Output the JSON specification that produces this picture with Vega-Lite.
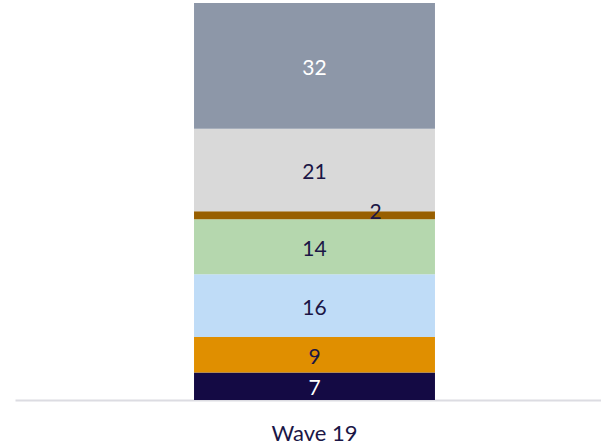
{
  "$schema": "https://vega.github.io/schema/vega-lite/v6.json",
  "width": 599,
  "height": 397,
  "autosize": {"type": "none"},
  "padding": {"left": 15, "top": 3, "right": 0, "bottom": 46},
  "background": "white",
  "config": {
    "view": {"stroke": null},
    "font": "Lato"
  },
  "data": {
    "values": [
      {"wave": "Wave 19", "segment": "A", "rank": 1, "value": 7},
      {"wave": "Wave 19", "segment": "B", "rank": 2, "value": 9},
      {"wave": "Wave 19", "segment": "C", "rank": 3, "value": 16},
      {"wave": "Wave 19", "segment": "D", "rank": 4, "value": 14},
      {"wave": "Wave 19", "segment": "E", "rank": 5, "value": 2},
      {"wave": "Wave 19", "segment": "F", "rank": 6, "value": 21},
      {"wave": "Wave 19", "segment": "G", "rank": 7, "value": 32}
    ]
  },
  "transform": [
    {"stack": "value", "groupby": ["wave"], "sort": [{"field": "rank", "order": "ascending"}], "as": ["v0", "v1"]},
    {"calculate": "(datum.v0 + datum.v1) / 2", "as": "vmid"}
  ],
  "encoding": {
    "x": {
      "field": "wave",
      "type": "nominal",
      "title": null,
      "scale": {"paddingInner": 0, "paddingOuter": 0.743},
      "axis": {
        "domainColor": "#dcdce2",
        "domainWidth": 2,
        "ticks": false,
        "labelAngle": 0,
        "labelFontSize": 22,
        "labelColor": "#1b1646",
        "labelPadding": 23
      }
    }
  },
  "layer": [
    {
      "mark": {"type": "bar"},
      "encoding": {
        "y": {
          "field": "v0",
          "type": "quantitative",
          "scale": {"domain": [0, 101], "nice": false, "zero": true},
          "axis": null
        },
        "y2": {"field": "v1"},
        "color": {
          "field": "segment",
          "type": "nominal",
          "legend": null,
          "scale": {
            "domain": ["A", "B", "C", "D", "E", "F", "G"],
            "range": ["#140a44", "#e08f00", "#bfdcf7", "#b5d7ae", "#985f00", "#d9d9d9", "#8d97a8"]
          }
        }
      }
    },
    {
      "transform": [{"filter": "datum.segment != 'E'"}],
      "mark": {"type": "text", "fontSize": 21, "baseline": "middle", "align": "center", "dy": 3},
      "encoding": {
        "y": {"field": "vmid", "type": "quantitative", "axis": null},
        "text": {"field": "value", "type": "quantitative"},
        "color": {
          "condition": {"test": "datum.segment == 'A' || datum.segment == 'G'", "value": "#ffffff"},
          "value": "#1b1646"
        }
      }
    },
    {
      "transform": [{"filter": "datum.segment == 'E'"}],
      "mark": {"type": "text", "fontSize": 21, "baseline": "middle", "align": "center", "dx": 61, "dy": -2, "color": "#1b1646"},
      "encoding": {
        "y": {"field": "vmid", "type": "quantitative", "axis": null},
        "text": {"field": "value", "type": "quantitative"}
      }
    }
  ]
}
